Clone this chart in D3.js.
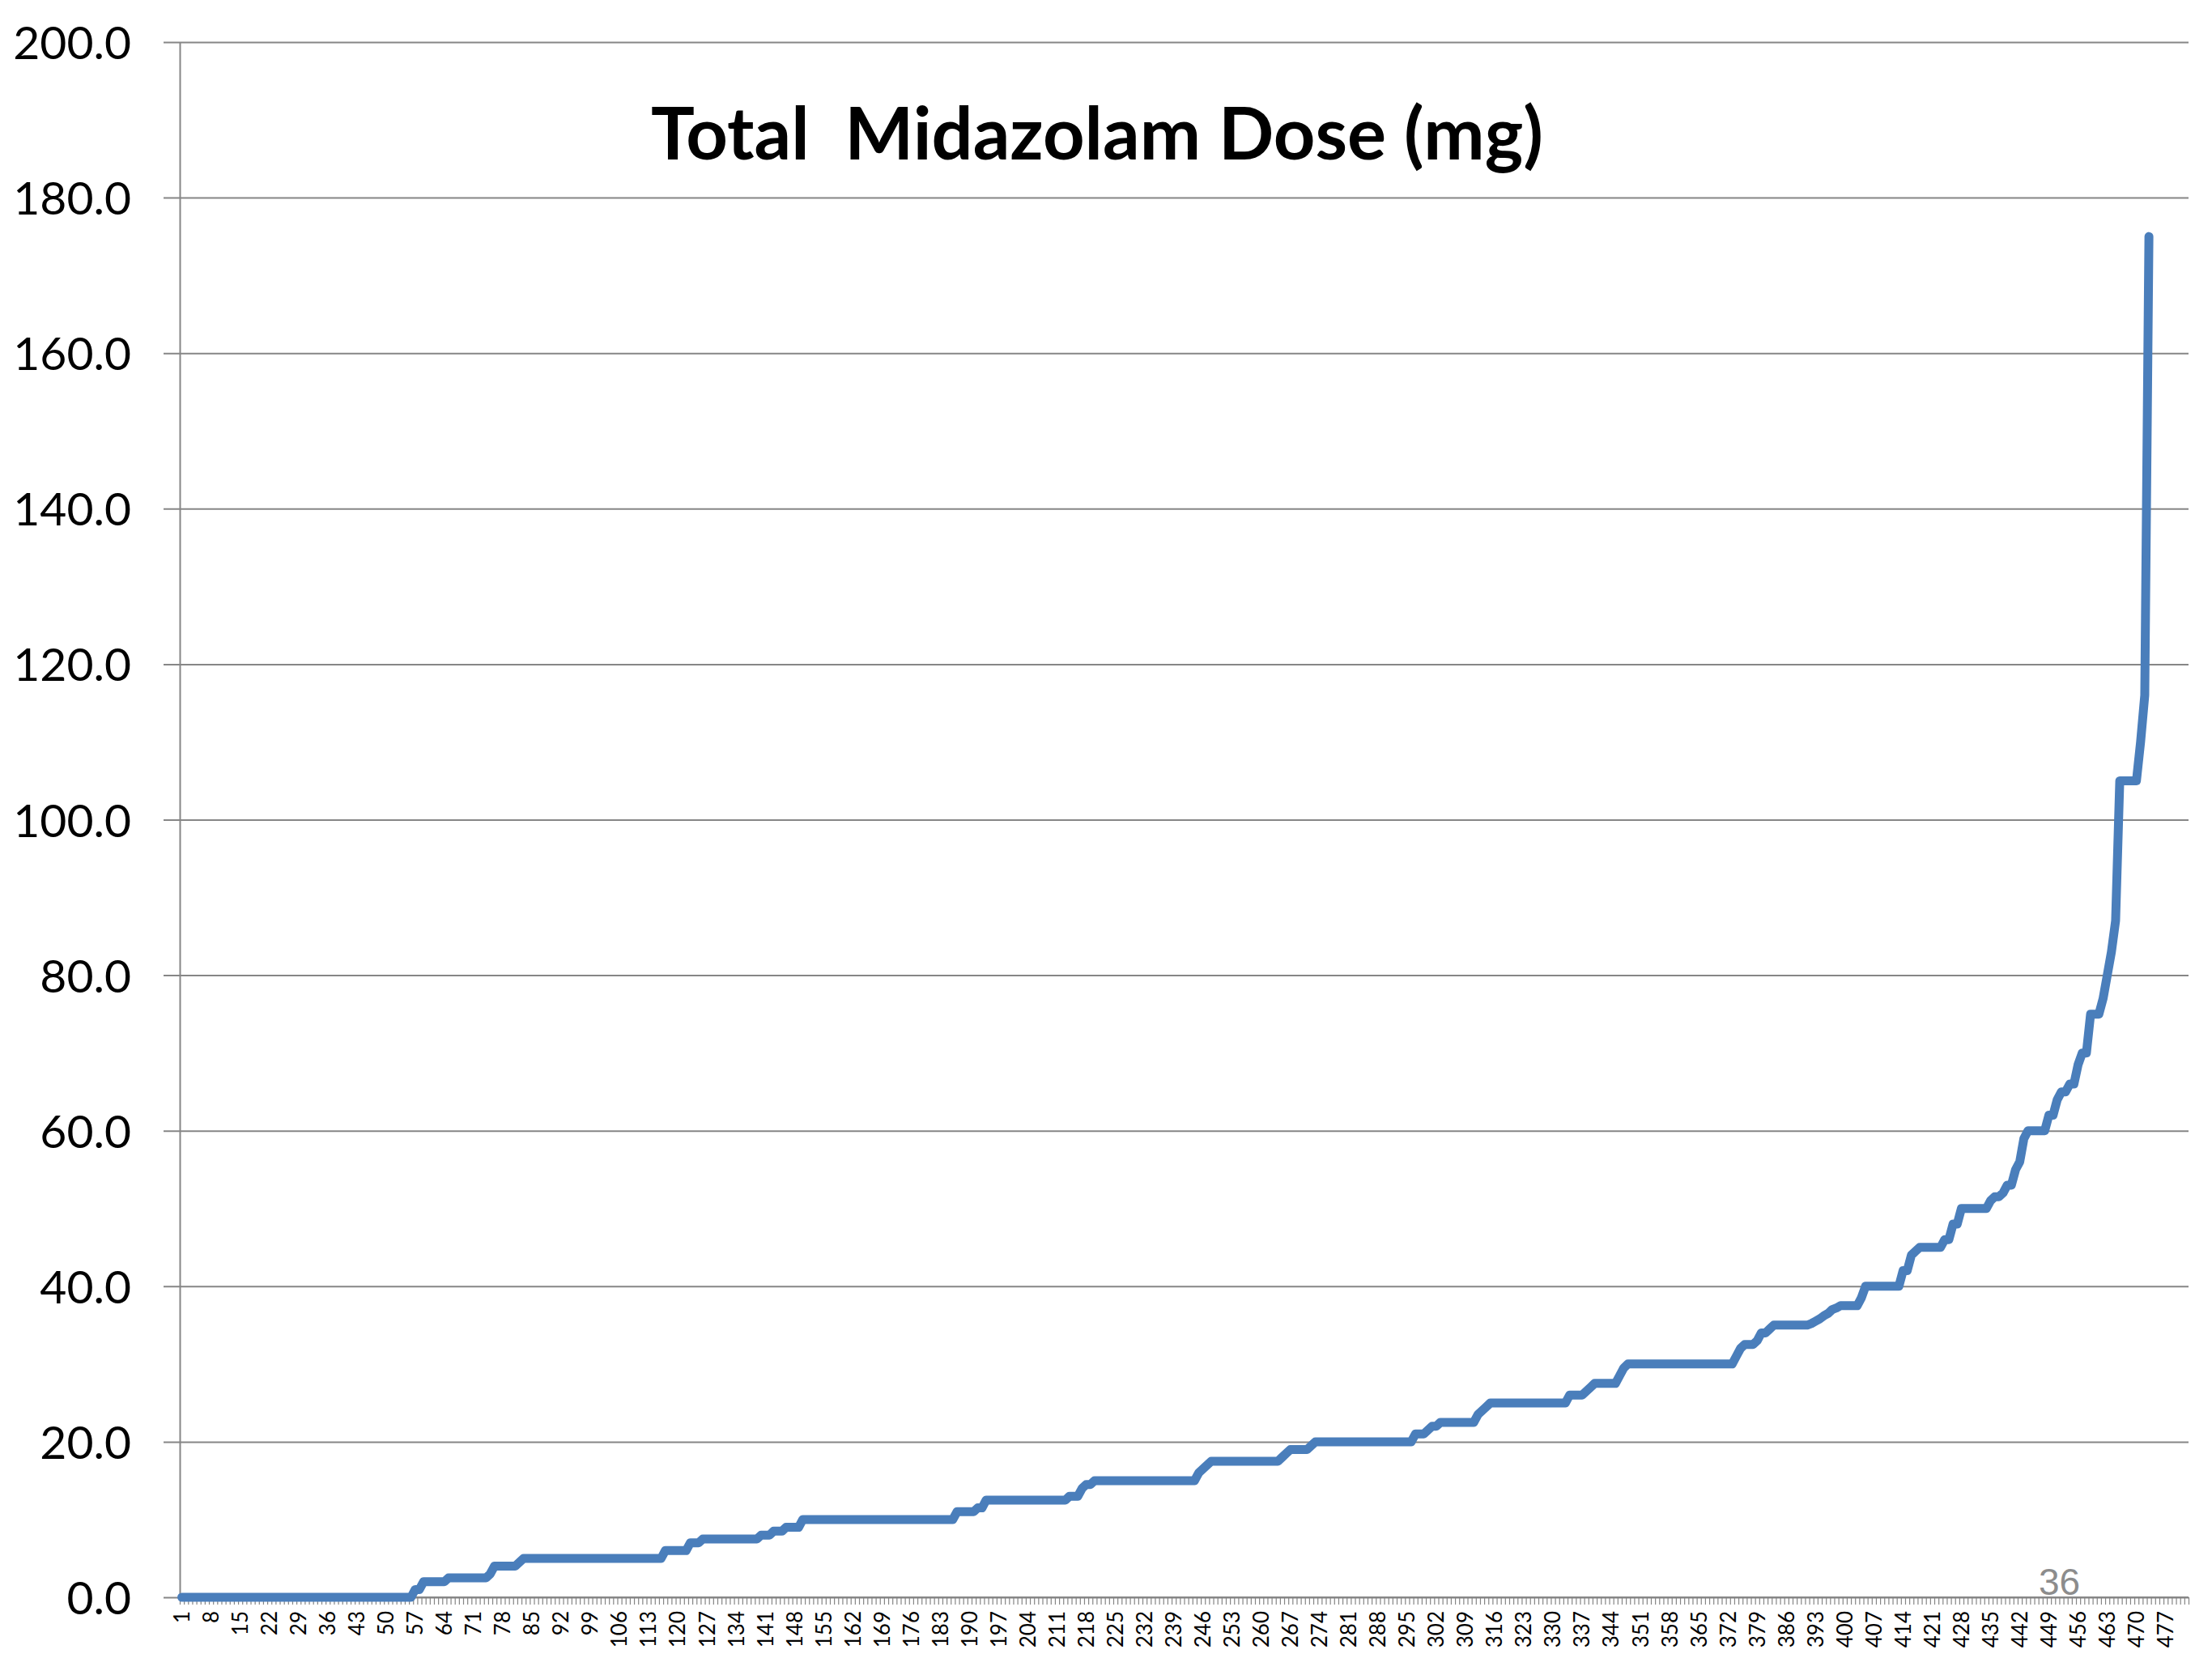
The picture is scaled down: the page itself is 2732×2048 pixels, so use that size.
<!DOCTYPE html>
<html>
<head>
<meta charset="utf-8">
<script src="https://cdn.jsdelivr.net/npm/d3@7"></script>
<style>
  html, body { margin: 0; padding: 0; background: #ffffff; }
  svg { display: block; }
</style>
</head>
<body>
<svg id="chart" width="2732" height="2048"></svg>
<script>
// ---------------- DATA ----------------
const chartTitle = "Total  Midazolam Dose (mg)";
const pageNumber = "36";
const categoryCount = 482;
const categories = d3.range(1, categoryCount + 1);

// sorted total midazolam dose per patient (mg)
const doses = [
  // 1–56
  0,0,0,0,0,0,0,0,0,0,
  0,0,0,0,0,0,0,0,0,0,
  0,0,0,0,0,0,0,0,0,0,
  0,0,0,0,0,0,0,0,0,0,
  0,0,0,0,0,0,0,0,0,0,
  0,0,0,0,0,0,
  // 57–82
  1,1,2,2,2,2,2,2,2.5,2.5,
  2.5,2.5,2.5,2.5,2.5,2.5,2.5,2.5,3,4,
  4,4,4,4,4,4.5,
  // 83–116
  5,5,5,5,5,5,5,5,5,5,
  5,5,5,5,5,5,5,5,5,5,
  5,5,5,5,5,5,5,5,5,5,
  5,5,5,5,
  // 117–139
  6,6,6,6,6,6,7,7,7,
  7.5,7.5,7.5,7.5,7.5,7.5,7.5,7.5,7.5,7.5,
  7.5,7.5,7.5,7.5,
  // 140–149
  8,8,8,8.5,8.5,8.5,9,9,9,9,
  // 150–186
  10,10,10,10,10,10,10,10,10,10,
  10,10,10,10,10,10,10,10,10,10,
  10,10,10,10,10,10,10,10,10,10,
  10,10,10,10,10,10,10,
  // 187–213
  11,11,11,11,11,11.5,11.5,
  12.5,12.5,12.5,12.5,12.5,12.5,12.5,12.5,12.5,12.5,
  12.5,12.5,12.5,12.5,12.5,12.5,12.5,12.5,12.5,12.5,
  // 214–247
  13,13,13,14,14.5,14.5,
  15,15,15,15,15,15,15,15,15,15,
  15,15,15,15,15,15,15,15,15,15,
  15,15,15,15,15,
  16,16.5,17,
  // 248–272
  17.5,17.5,17.5,17.5,17.5,17.5,17.5,17.5,17.5,17.5,
  17.5,17.5,17.5,17.5,17.5,17.5,17.5,
  18,18.5,19,19,19,19,19,19.5,
  // 273–314
  20,20,20,20,20,20,20,20,20,20,
  20,20,20,20,20,20,20,20,20,20,
  20,20,20,20,
  21,21,21,21.5,22,22,
  22.5,22.5,22.5,22.5,22.5,22.5,22.5,22.5,22.5,
  23.5,24,24.5,
  // 315–347
  25,25,25,25,25,25,25,25,25,25,
  25,25,25,25,25,25,25,25,25,
  26,26,26,26,26.5,27,
  27.5,27.5,27.5,27.5,27.5,27.5,
  28.5,29.5,
  // 348–404
  30,30,30,30,30,30,30,30,30,30,
  30,30,30,30,30,30,30,30,30,30,
  30,30,30,30,30,30,
  31,32,32.5,32.5,32.5,33,34,34,34.5,
  35,35,35,35,35,35,35,35,35,
  35.2,35.5,35.8,36.2,36.5,37,37.2,
  37.5,37.5,37.5,37.5,37.5,38.5,
  // 405–473
  40,40,40,40,40,40,40,40,40,
  42,42,44,44.5,45,45,45,45,45,45,
  46,46,48,48,50,50,50,50,50,50,50,
  51,51.5,51.5,52,53,53,55,56,59,
  60,60,60,60,60,
  62,62,64,65,65,66,66,68.5,70,70,
  75,75,75,77,80,83,87,
  105,105,105,105,105,110,116,175
];

const xTickLabels = [1,8,15,22,29,36,43,50,57,64,71,78,85,92,99,106,113,120,127,134,
  141,148,155,162,169,176,183,190,197,204,211,218,225,232,239,246,253,260,267,274,
  281,288,295,302,309,316,323,330,337,344,351,358,365,372,379,386,393,400,407,414,
  421,428,435,442,449,456,463,470,477];
const yTicks = [0,20,40,60,80,100,120,140,160,180,200];

// ---------------- LAYOUT ----------------
const W = 2732, H = 2048;
const plot = { left: 222, right: 2703, top: 52, bottom: 1973 };
const axisColor = "#868686";
const lineColor = "#4A7EBB";
const fontFamily = "Lato, 'Open Sans', 'DejaVu Sans', sans-serif";

const svg = d3.select("#chart");
svg.append("rect").attr("width", W).attr("height", H).attr("fill", "#ffffff");

const x = d3.scaleBand().domain(categories).range([plot.left, plot.right]).padding(0);
const xBoundary = d3.scaleLinear().domain([0, categoryCount]).range([plot.left, plot.right]);
const y = d3.scaleLinear().domain([0, 200]).range([plot.bottom, plot.top]);

// gridlines (with outward major ticks)
const grid = svg.append("g")
  .attr("transform", `translate(${plot.right},0)`)
  .call(d3.axisLeft(y).tickValues(yTicks).tickSize(plot.right - plot.left + 20).tickFormat(""));
grid.select(".domain").remove();
grid.selectAll(".tick line").attr("stroke", axisColor).attr("stroke-width", 2);

// y axis labels
const yAxis = svg.append("g")
  .attr("transform", `translate(${plot.left},0)`)
  .call(d3.axisLeft(y).tickValues(yTicks).tickSize(0).tickPadding(60).tickFormat(d3.format(".1f")));
yAxis.select(".domain").attr("stroke", axisColor).attr("stroke-width", 2);
yAxis.selectAll(".tick text")
  .attr("font-family", fontFamily)
  .attr("font-size", 57)
  .attr("fill", "#000000")
  .attr("dy", "0.36em");

// x axis: tick marks between every category
const xTicks = svg.append("g")
  .attr("transform", `translate(0,${plot.bottom})`)
  .call(d3.axisBottom(xBoundary).tickValues(d3.range(0, categoryCount + 1)).tickSize(9).tickFormat(""));
xTicks.select(".domain").attr("stroke", axisColor).attr("stroke-width", 2).attr("d", `M${plot.left},0H${plot.right}`);
xTicks.selectAll(".tick line").attr("stroke", axisColor).attr("stroke-width", 1.2);

// x axis labels (every 7th category, rotated)
const xLabels = svg.append("g")
  .attr("transform", `translate(0,${plot.bottom})`)
  .call(d3.axisBottom(x).tickValues(xTickLabels).tickSize(0).tickFormat(d => String(d)));
xLabels.select(".domain").remove();
xLabels.selectAll(".tick text")
  .attr("font-family", fontFamily)
  .attr("font-size", 26)
  .attr("fill", "#000000")
  .attr("text-anchor", "end")
  .attr("transform", "rotate(-90)")
  .attr("x", -17)
  .attr("y", 0)
  .attr("dy", "0.36em");

// data line
const line = d3.line()
  .x((d, i) => x(categories[i]) + x.bandwidth() / 2)
  .y(d => y(d));
svg.append("path")
  .datum(doses)
  .attr("d", line)
  .attr("fill", "none")
  .attr("stroke", lineColor)
  .attr("stroke-width", 11)
  .attr("stroke-linejoin", "round")
  .attr("stroke-linecap", "round");

// title
svg.append("text")
  .attr("x", 1355)
  .attr("y", 197)
  .attr("text-anchor", "middle")
  .attr("font-family", fontFamily)
  .attr("font-weight", "bold")
  .attr("font-size", 90)
  .style("white-space", "pre")
  .attr("fill", "#000000")
  .text(chartTitle);

// page number
svg.append("text")
  .attr("x", 2518)
  .attr("y", 1970)
  .attr("font-family", "'Liberation Sans', Arial, sans-serif")
  .attr("font-size", 46)
  .attr("fill", "#8c8c8c")
  .text(pageNumber);
</script>
</body>
</html>
